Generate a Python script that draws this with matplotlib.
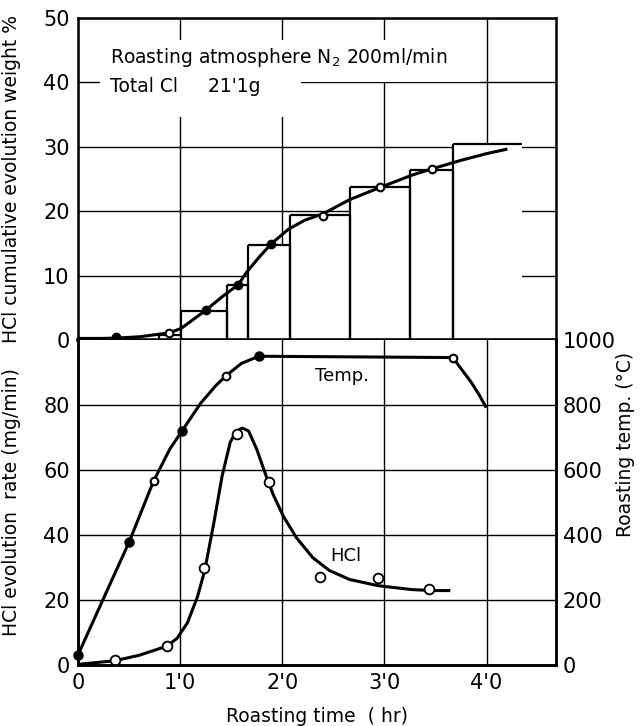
import numpy as np
import matplotlib
matplotlib.use("Agg")
import matplotlib.pyplot as plt
from matplotlib.patches import Rectangle

# ---------------- data ----------------
# cumulative HCl evolution, interval bars (hr, weight %)
bar_left = [0.0, 0.79, 1.01, 1.46, 1.66, 2.08, 2.66, 3.25, 3.67]
bar_right = [0.38, 1.01, 1.46, 1.66, 2.08, 2.66, 3.25, 3.67, 4.35]
bar_height = [0.3, 0.7, 4.5, 8.6, 14.7, 19.4, 23.7, 26.4, 30.5]

# cumulative curve (smooth line) and its measured points
cum_curve_t = [0.0, 0.38, 0.6, 0.89, 1.01, 1.13, 1.25, 1.41, 1.57, 1.65, 1.77,
               1.89, 2.06, 2.22, 2.40, 2.66, 2.96, 3.27, 3.47, 3.75, 3.99, 4.19]
cum_curve_w = [0.1, 0.3, 0.5, 1.1, 1.8, 3.2, 4.6, 6.7, 8.6, 10.5, 12.8,
               14.9, 17.2, 18.6, 19.6, 21.8, 23.7, 25.6, 26.6, 27.9, 28.9, 29.6]
cum_pts_t = [0.37, 0.89, 1.25, 1.57, 1.89, 2.40, 2.96, 3.47]
cum_pts_w = [0.5, 1.1, 4.6, 8.6, 14.9, 19.3, 23.7, 26.6]
cum_pts_filled = [True, False, True, True, True, False, False, False]

# HCl evolution rate (mg/min)
hcl_curve_t = [0.0, 0.36, 0.6, 0.87, 0.97, 1.07, 1.17, 1.24, 1.33, 1.41, 1.49,
               1.55, 1.61, 1.67, 1.75, 1.83, 1.91, 2.01, 2.14, 2.30, 2.46,
               2.66, 2.94, 3.27, 3.47, 3.63]
hcl_curve_r = [0.2, 1.3, 3.0, 5.8, 8.2, 12.9, 21.0, 29.0, 43.7, 58.0, 68.5,
               72.0, 72.9, 72.0, 66.4, 59.2, 52.5, 45.8, 39.1, 33.0, 29.1,
               26.3, 24.4, 23.2, 22.9, 22.9]
hcl_pts_t = [0.36, 0.87, 1.23, 1.56, 1.87, 2.37, 2.94, 3.44]
hcl_pts_r = [1.5, 5.9, 30.0, 71.1, 56.2, 27.2, 26.8, 23.5]

# roasting temperature (deg C)
temp_curve_t = [0.0, 0.25, 0.5, 0.74, 0.9, 1.02, 1.2, 1.35, 1.45, 1.6, 1.77,
                3.67, 3.75, 3.85, 3.93, 3.99]
temp_curve_c = [31, 205, 378, 566, 665, 721, 805, 860, 890, 928, 950,
                946, 912, 870, 830, 796]
temp_pts_t = [0.0, 0.5, 0.74, 1.02, 1.45, 1.77, 3.67]
temp_pts_c = [31, 378, 566, 721, 890, 950, 946]
temp_pts_filled = [True, True, False, True, False, True, False]

x_ticks = [0, 1, 2, 3, 4]
x_ticklabels = ["0", "1'0", "2'0", "3'0", "4'0"]

# ---------------- figure ----------------
plt.rcParams["font.family"] = "DejaVu Sans"
fig = plt.figure(figsize=(6.42, 7.26), dpi=100)
L, W = 78 / 642, 478 / 642
ax1 = fig.add_axes([L, 1 - 340 / 726, W, 322 / 726])
ax2 = fig.add_axes([L, 1 - 665 / 726, W, 325 / 726])
ax3 = ax2.twinx()

grid_kw = dict(color="black", lw=1.0)
for ax in (ax1, ax2, ax3):
    ax.set_xlim(0, 4.68)
    ax.set_xticks(x_ticks)
    for s in ax.spines.values():
        s.set_linewidth(1.8)
    ax.tick_params(length=0, labelsize=15, pad=6)

# top panel
ax1.set_ylim(0, 50)
ax1.set_yticks([0, 10, 20, 30, 40, 50])
ax1.set_xticklabels([])
ax1.set_axisbelow(True)
ax1.grid(True, **grid_kw)
ax1.spines["bottom"].set_linewidth(2.6)

widths = [r - l for l, r in zip(bar_left, bar_right)]
ax1.bar(bar_left, bar_height, width=widths, align="edge", color="white",
        edgecolor="none", zorder=2)
ax1.vlines(bar_left, 0, bar_height, color="black", lw=1.6, zorder=3)
ax1.vlines(bar_right[:-1], 0, bar_height[:-1], color="black", lw=1.6, zorder=3)
ax1.hlines(bar_height, bar_left, bar_right, color="black", lw=1.6, zorder=3)

ax1.plot(cum_curve_t, cum_curve_w, color="black", lw=2.2, zorder=4)
for t, w, f in zip(cum_pts_t, cum_pts_w, cum_pts_filled):
    ax1.plot(t, w, "o", ms=5.5, mec="black", mew=1.5,
             mfc="black" if f else "white", zorder=5)

# white area behind the note
ax1.add_patch(Rectangle((0.22, 40.0), 3.72, 6.6, facecolor="white",
                        edgecolor="none", zorder=1))
ax1.add_patch(Rectangle((0.22, 34.6), 1.96, 5.6, facecolor="white",
                        edgecolor="none", zorder=1))
ax1.text(0.31, 43.9, "Roasting atmosphere N$_2$ 200ml/min", fontsize=13.5,
         va="center", ha="left", zorder=6)
ax1.text(0.31, 39.3, "Total Cl     21'1g", fontsize=13.5,
         va="center", ha="left", zorder=6)
ax1.set_ylabel("HCl cumulative evolution weight %", fontsize=13.5)
ax1.yaxis.set_label_coords(-0.12, 0.5)

# bottom panel
ax2.set_ylim(0, 100)
ax2.set_yticks([0, 20, 40, 60, 80])
ax2.set_xticklabels(x_ticklabels)
ax2.set_axisbelow(True)
ax2.grid(True, **grid_kw)
ax2.spines["top"].set_visible(False)
ax3.spines["top"].set_visible(False)
ax2.set_xlabel("Roasting time  ( hr)", fontsize=13.5, labelpad=10)
ax2.set_ylabel("HCl evolution  rate (mg/min)", fontsize=13.5)
ax2.yaxis.set_label_coords(-0.12, 0.5)

ax3.set_ylim(0, 1000)
ax3.set_yticks([0, 200, 400, 600, 800, 1000])
ax3.tick_params(axis="y", pad=5)
ax3.set_ylabel("Roasting temp. (\u00b0C)", fontsize=13.5)
ax3.yaxis.set_label_coords(1.125, 0.68)

ax2.plot(hcl_curve_t, hcl_curve_r, color="black", lw=2.2, zorder=3)
ax2.plot(hcl_pts_t, hcl_pts_r, "o", ms=7, mec="black", mew=1.3,
         mfc="white", zorder=4)
ax2.text(2.62, 33.5, "HCl", fontsize=13, ha="center", va="center")

ax3.plot(temp_curve_t, temp_curve_c, color="black", lw=2.2, zorder=3)
for t, c, f in zip(temp_pts_t, temp_pts_c, temp_pts_filled):
    ax3.plot(t, c, "o", ms=6 if f else 5.5, mec="black", mew=1.5,
             mfc="black" if f else "white", zorder=4, clip_on=False)
ax3.text(2.58, 890, "Temp.", fontsize=13, ha="center", va="center")

fig.savefig("out.png", dpi=100)
